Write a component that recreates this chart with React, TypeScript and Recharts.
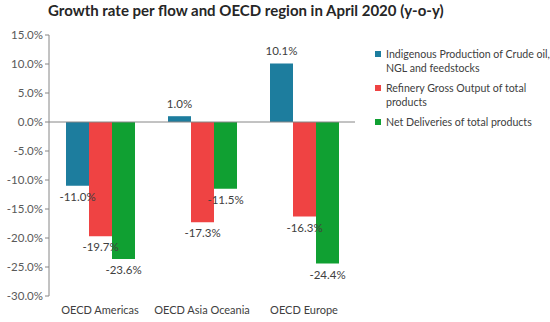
import {
  BarChart,
  Bar,
  XAxis,
  YAxis,
  ReferenceLine,
  LabelList,
} from 'recharts';

const regions = ['OECD Americas', 'OECD Asia Oceania', 'OECD Europe'];
const indigenous = [-11.0, 1.0, 10.1];
const refinery = [-19.7, -17.3, -16.3];
const deliveries = [-23.6, -11.5, -24.4];
const yTicks = [15, 10, 5, 0, -5, -10, -15, -20, -25, -30];

const seriesInfo = [
  { key: 'indigenous', name: 'Indigenous Production of Crude oil, NGL and feedstocks', color: '#1d7d9e' },
  { key: 'refinery', name: 'Refinery Gross Output of total products', color: '#ef4343' },
  { key: 'deliveries', name: 'Net Deliveries of total products', color: '#10a032' },
];

const data = regions.map((region, i) => ({
  region,
  indigenous: indigenous[i],
  refinery: refinery[i],
  deliveries: deliveries[i],
}));

const font = 'Lato, "Open Sans", sans-serif';

// eslint-disable-next-line @typescript-eslint/no-explicit-any
function ValueLabel(props: any) {
  const { x, y, width, height, value } = props;
  const top = Math.min(y, y + height);
  const bottom = Math.max(y, y + height);
  const ly = value < 0 ? bottom + 15 : top - 8;
  return (
    <text
      x={x + width / 2}
      y={ly}
      textAnchor="middle"
      fontSize={11.5}
      fill="#404040"
      fontFamily={font}
    >
      {value.toFixed(1)}%
    </text>
  );
}

function LegendBox() {
  return (
    <div style={{ fontFamily: font, fontSize: 10.6, color: '#404040', lineHeight: '14px' }}>
      {seriesInfo.map((s) => (
        <div key={s.key} style={{ display: 'flex', marginBottom: 6 }}>
          <span
            style={{
              display: 'inline-block',
              width: 6,
              height: 6,
              background: s.color,
              marginTop: 4,
              marginRight: 5,
              flexShrink: 0,
            }}
          />
          <span>{s.name}</span>
        </div>
      ))}
    </div>
  );
}

export default function App() {
  return (
    <div style={{ position: 'absolute', left: 0, top: 0, width: 550, height: 322, background: '#fff' }}>
      <div
        style={{
          position: 'absolute',
          left: 48,
          top: 1,
          fontFamily: font,
          fontWeight: 700,
          fontSize: 15,
          color: '#262626',
        }}
      >
        Growth rate per flow and OECD region in April 2020 (y-o-y)
      </div>
      <div style={{ position: 'absolute', left: 375, top: 47, width: 175 }}>
        <LegendBox />
      </div>
      <BarChart
        width={550}
        height={322}
        data={data}
        margin={{ top: 35, right: 195, bottom: 0, left: 0 }}
        barGap={0}
        barCategoryGap="16%"
      >
        <YAxis
          domain={[-30, 15]}
          ticks={yTicks}
          interval={0}
          width={49}
          tickFormatter={(v: number) => `${v.toFixed(1)}%`}
          tick={{ fontSize: 11.5, fill: '#595959', fontFamily: font }}
          axisLine={{ stroke: '#868686' }}
          tickLine={{ stroke: '#868686' }}
          tickSize={4}
        />
        <XAxis
          dataKey="region"
          height={26}
          interval={0}
          axisLine={false}
          tickLine={false}
          tick={{ fontSize: 11, fill: '#404040', fontFamily: font }}
          dy={2}
        />
        <ReferenceLine y={0} stroke="#868686" />
        {seriesInfo.map((s) => (
          <Bar key={s.key} dataKey={s.key} name={s.name} fill={s.color} barSize={23} isAnimationActive={false}>
            <LabelList dataKey={s.key} content={<ValueLabel />} />
          </Bar>
        ))}
      </BarChart>
    </div>
  );
}
